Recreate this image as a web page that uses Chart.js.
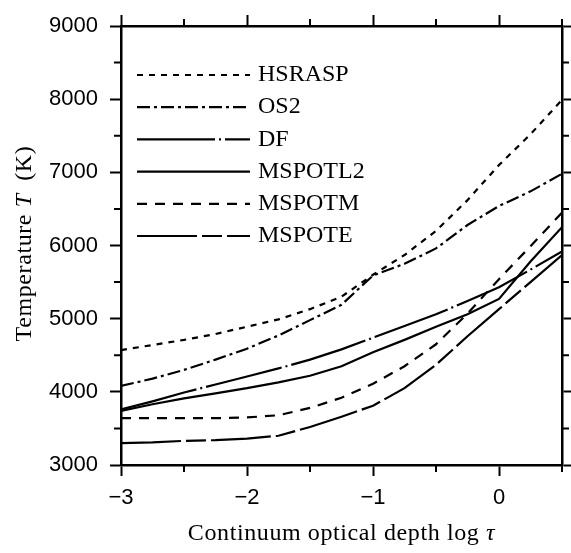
<!DOCTYPE html>
<html>
<head>
<meta charset="utf-8">
<script src="https://cdn.jsdelivr.net/npm/chart.js@4.4.0/dist/chart.umd.min.js"></script>
<style>
  html, body { margin: 0; padding: 0; background: #fff; }
  #wrap { width: 571px; height: 553px; position: relative; }
</style>
</head>
<body>
<div id="wrap"><canvas id="myChart"></canvas></div>
<script>
// continuum optical depth grid (log tau), shared by all models
const logTau = [-3, -2.75, -2.5, -2.25, -2, -1.75, -1.5, -1.25, -1, -0.75, -0.5, -0.25, 0, 0.25, 0.5];

// temperatures (K)
const tHSRASP  = [4570, 4640, 4710, 4790, 4890, 4990, 5130, 5300, 5600, 5870, 6200, 6620, 7100, 7520, 7990];
const tOS2     = [4080, 4180, 4300, 4440, 4590, 4770, 4980, 5190, 5590, 5750, 5960, 6280, 6540, 6740, 6980];
const tDF      = [3760, 3870, 3990, 4100, 4210, 4320, 4440, 4580, 4740, 4900, 5060, 5240, 5430, 5670, 5920];
const tMSPOTL2 = [3740, 3830, 3910, 3980, 4050, 4130, 4220, 4350, 4540, 4710, 4890, 5060, 5270, 5780, 6250];
const tMSPOTM  = [3640, 3640, 3640, 3640, 3650, 3680, 3780, 3920, 4110, 4350, 4650, 5070, 5540, 5990, 6450];
const tMSPOTE  = [3300, 3310, 3330, 3340, 3360, 3400, 3520, 3660, 3810, 4050, 4370, 4760, 5130, 5500, 5870];

const modelNames = ['HSRASP', 'OS2', 'DF', 'MSPOTL2', 'MSPOTM', 'MSPOTE'];

// axis ticks
const xTicks = [-3, -2, -1, 0];
const xMinor = [-2.5, -1.5, -0.5, 0.5];
const yTicks = [3000, 4000, 5000, 6000, 7000, 8000, 9000];
const yMinor = [3500, 4500, 5500, 6500, 7500, 8500];

const series = [tHSRASP, tOS2, tDF, tMSPOTL2, tMSPOTM, tMSPOTE];
const dashes = [[6, 6], [13, 4, 3, 4], [78, 4, 2, 4], [], [10, 8], [60, 5, 20, 5]];

function points(values) {
    return logTau.map((x, i) => ({ x: x, y: values[i] }));
}

let datasets = [];
for (let i = 0; i < series.length; i++) {
    datasets.push({
        label: modelNames[i],
        data: points(series[i]),
        borderColor: '#000',
        borderWidth: 2.2,
        borderDash: dashes[i],
        pointRadius: 0,
        tension: 0,
        fill: false
    });
}

const serif = '"Liberation Serif", "Times New Roman", serif';

// legend drawn inside the plot, upper left
const insideLegend = {
    id: 'insideLegend',
    afterDatasetsDraw(chart) {
        const ctx = chart.ctx;
        const a = chart.chartArea;
        ctx.save();
        chart.data.datasets.forEach((ds, i) => {
            let y = a.top + 49 + i * 32.2;
            ctx.beginPath();
            ctx.setLineDash(ds.borderDash);
            ctx.lineWidth = ds.borderWidth;
            ctx.strokeStyle = ds.borderColor;
            ctx.moveTo(a.left + 16, y);
            ctx.lineTo(a.left + 129, y);
            ctx.stroke();
            ctx.setLineDash([]);
            ctx.fillStyle = '#000';
            ctx.font = '24px ' + serif;
            ctx.textBaseline = 'middle';
            ctx.textAlign = 'left';
            ctx.fillText(ds.label, a.left + 137, y);
        });
        ctx.restore();
    }
};

// text made of upright / italic pieces, centred on x
function drawPieces(ctx, pieces, x, y) {
    let total = 0;
    pieces.forEach(p => {
        ctx.font = p[1];
        total += ctx.measureText(p[0]).width;
    });
    let cx = x - total / 2;
    pieces.forEach(p => {
        ctx.font = p[1];
        ctx.fillText(p[0], cx, y);
        cx += ctx.measureText(p[0]).width;
    });
}

const axisTitles = {
    id: 'axisTitles',
    afterDraw(chart) {
        const ctx = chart.ctx;
        const a = chart.chartArea;
        const up = '24px ' + serif;
        const it = 'italic 24px ' + serif;
        ctx.save();
        ctx.fillStyle = '#000';
        ctx.textAlign = 'left';
        ctx.textBaseline = 'alphabetic';
        ctx.letterSpacing = '0.6px';
        drawPieces(ctx, [['Continuum optical depth log ', up], ['\u03c4', it]], (a.left + a.right) / 2, 540);
        ctx.translate(25, (a.top + a.bottom) / 2 - 2);
        ctx.rotate(-Math.PI / 2);
        ctx.textBaseline = 'middle';
        drawPieces(ctx, [['Temperature ', up], ['T', it], ['\u2002(K)', up]], 0, 0);
        ctx.restore();
    }
};

// short ticks at the half steps, on all four sides
const minorTicks = {
    id: 'minorTicks',
    afterDraw(chart) {
        const ctx = chart.ctx;
        const a = chart.chartArea;
        const sx = chart.scales.x;
        const sy = chart.scales.y;
        ctx.save();
        ctx.strokeStyle = '#000';
        ctx.lineWidth = 2;
        ctx.beginPath();
        xMinor.forEach(v => {
            let px = sx.getPixelForValue(v);
            ctx.moveTo(px, a.bottom);
            ctx.lineTo(px, a.bottom + 7);
            ctx.moveTo(px, a.top);
            ctx.lineTo(px, a.top - 7);
        });
        yMinor.forEach(v => {
            let py = sy.getPixelForValue(v);
            ctx.moveTo(a.left, py);
            ctx.lineTo(a.left - 7, py);
            ctx.moveTo(a.right, py);
            ctx.lineTo(a.right + 7, py);
        });
        ctx.stroke();
        ctx.restore();
    }
};

const tickGrid = { drawOnChartArea: false, drawTicks: true, tickLength: 11, tickColor: '#000', tickWidth: 2 };
const frame = { display: true, color: '#000', width: 2.5 };
const tickFont = { family: '"Liberation Sans", Arial, sans-serif', size: 22 };

let ctx = document.getElementById('myChart');
let myChart = new Chart(ctx, {
    type: 'line',
    data: { datasets: datasets },
    options: {
        responsive: true,
        maintainAspectRatio: false,
        animation: false,
        layout: { padding: 0 },
        plugins: {
            legend: { display: false },
            tooltip: { enabled: false }
        },
        scales: {
            x: {
                type: 'linear', position: 'bottom', min: -3, max: 0.5,
                afterBuildTicks: s => { s.ticks = xTicks.map(v => ({ value: v })); },
                afterFit: s => { s.height = 88; },
                grid: tickGrid, border: frame,
                ticks: {
                    color: '#000', font: tickFont, padding: 9, maxRotation: 0, autoSkip: false,
                    callback: v => v < 0 ? '\u2212' + Math.abs(v) : String(v)
                }
            },
            xTop: {
                type: 'linear', position: 'top', min: -3, max: 0.5,
                afterBuildTicks: s => { s.ticks = xTicks.map(v => ({ value: v })); },
                afterFit: s => { s.height = 26; },
                grid: tickGrid, border: frame,
                ticks: { display: false }
            },
            y: {
                type: 'linear', position: 'left', min: 3000, max: 9000,
                afterBuildTicks: s => { s.ticks = yTicks.map(v => ({ value: v })); },
                afterFit: s => { s.width = 121; },
                grid: tickGrid, border: frame,
                ticks: { color: '#000', font: tickFont, padding: 12, autoSkip: false, callback: v => String(v) }
            },
            yRight: {
                type: 'linear', position: 'right', min: 3000, max: 9000,
                afterBuildTicks: s => { s.ticks = yTicks.map(v => ({ value: v })); },
                afterFit: s => { s.width = 9; },
                grid: tickGrid, border: frame,
                ticks: { display: false }
            }
        }
    },
    plugins: [insideLegend, minorTicks, axisTitles]
});
</script>
</body>
</html>
